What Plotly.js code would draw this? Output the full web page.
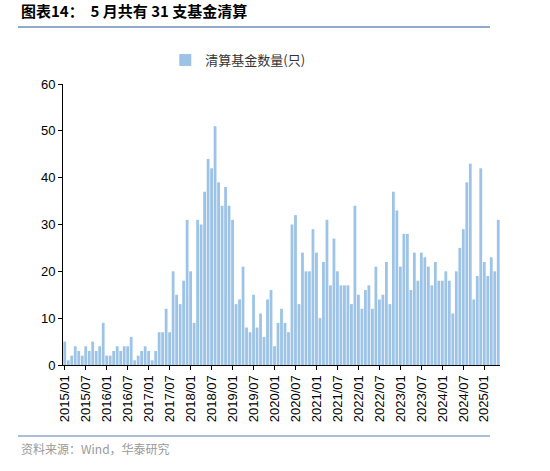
<!DOCTYPE html>
<html>
<head>
<meta charset="utf-8">
<script src="https://cdn.plot.ly/plotly-3.0.1.min.js"></script>
<style>
  html, body { margin: 0; padding: 0; background: #fff; }
  #plot { width: 550px; height: 471px; }
</style>
</head>
<body>
<div id="plot"></div>
<script>
// monthly counts of liquidated funds
var y2015 = [5, 1, 2, 4, 3, 2, 4, 3, 5, 3, 4, 9];
var y2016 = [2, 2, 3, 4, 3, 4, 4, 6, 1, 2, 3, 4];
var y2017 = [3, 1, 3, 7, 7, 12, 7, 20, 15, 13, 18, 31];
var y2018 = [20, 9, 31, 30, 37, 44, 42, 51, 39, 34, 38, 34];
var y2019 = [31, 13, 14, 21, 8, 7, 15, 8, 11, 6, 14, 16];
var y2020 = [4, 9, 12, 9, 7, 30, 32, 13, 24, 20, 20, 29];
var y2021 = [24, 10, 22, 31, 17, 27, 20, 17, 17, 17, 13, 34];
var y2022 = [15, 12, 16, 17, 12, 21, 14, 15, 22, 13, 37, 33];
var y2023 = [21, 28, 28, 16, 24, 18, 24, 23, 21, 17, 22, 18];
var y2024 = [18, 20, 18, 11, 20, 25, 29, 39, 43, 14, 19, 42];
var y2025 = [22, 19, 23, 20, 31];

var years = [2015, 2016, 2017, 2018, 2019, 2020, 2021, 2022, 2023, 2024, 2025];
var tickLabels = ["2015/01", "2015/07", "2016/01", "2016/07", "2017/01", "2017/07",
  "2018/01", "2018/07", "2019/01", "2019/07", "2020/01", "2020/07", "2021/01",
  "2021/07", "2022/01", "2022/07", "2023/01", "2023/07", "2024/01", "2024/07", "2025/01"];

var counts = [].concat(y2015, y2016, y2017, y2018, y2019, y2020, y2021, y2022, y2023, y2024, y2025);

// month labels for each bar
var months = [];
for (var i = 0; i < counts.length; i++) {
  var yr = years[Math.floor(i / 12)];
  var m = (i % 12) + 1;
  months.push(yr + "/" + (m < 10 ? "0" + m : m));
}

var trace = {
  x: months,
  y: counts,
  type: "bar",
  name: "清算基金数量(只)",
  marker: { color: "#9DC3E6" },
  hoverinfo: "x+y"
};

var layout = {
  width: 550,
  height: 471,
  margin: { l: 63, r: 50, t: 84, b: 106 },
  paper_bgcolor: "#fff",
  plot_bgcolor: "#fff",
  bargap: 0.2,
  font: { family: "Arial, 'Liberation Sans', sans-serif", size: 13, color: "#000" },
  showlegend: true,
  legend: {
    orientation: "h",
    x: 0.40, xanchor: "center",
    y: 1.085, yanchor: "middle",
    font: { family: "'Noto Sans CJK SC', sans-serif", size: 13, color: "#333" }
  },
  xaxis: {
    type: "category",
    range: [-0.5, counts.length - 0.5],
    tickmode: "array",
    tickvals: tickLabels,
    ticktext: tickLabels,
    tickangle: -90,
    ticks: "outside",
    ticklen: 4,
    tickcolor: "#000",
    showline: true,
    linecolor: "#000",
    linewidth: 1,
    showgrid: false,
    zeroline: false,
    tickfont: { size: 13, color: "#000" }
  },
  yaxis: {
    range: [0, 60],
    dtick: 10,
    ticks: "outside",
    ticklen: 4,
    tickcolor: "#000",
    showline: true,
    linecolor: "#000",
    linewidth: 1,
    showgrid: false,
    zeroline: false,
    tickfont: { size: 13, color: "#000" }
  },
  shapes: [
    { type: "line", xref: "paper", yref: "paper", x0: -0.103, x1: 0.977, y0: 1.203, y1: 1.203,
      line: { color: "#8FAACB", width: 2 } },
    { type: "line", xref: "paper", yref: "paper", x0: -0.103, x1: 0.977, y0: -0.253, y1: -0.253,
      line: { color: "#8FAACB", width: 1.5 } }
  ],
  annotations: [
    { xref: "paper", yref: "paper", x: -0.1, y: 1.262, xanchor: "left", yanchor: "middle",
      showarrow: false, text: "<b>图表14：  5 月共有 31 支基金清算</b>",
      font: { family: "'Noto Sans CJK SC', sans-serif", size: 15, color: "#000" } },
    { xref: "paper", yref: "paper", x: -0.1, y: -0.297, xanchor: "left", yanchor: "middle",
      showarrow: false, text: "资料来源：Wind，华泰研究",
      font: { family: "'Noto Sans CJK SC', sans-serif", size: 12, color: "#999" } }
  ]
};

Plotly.newPlot("plot", [trace], layout, { displayModeBar: false });
</script>
</body>
</html>
